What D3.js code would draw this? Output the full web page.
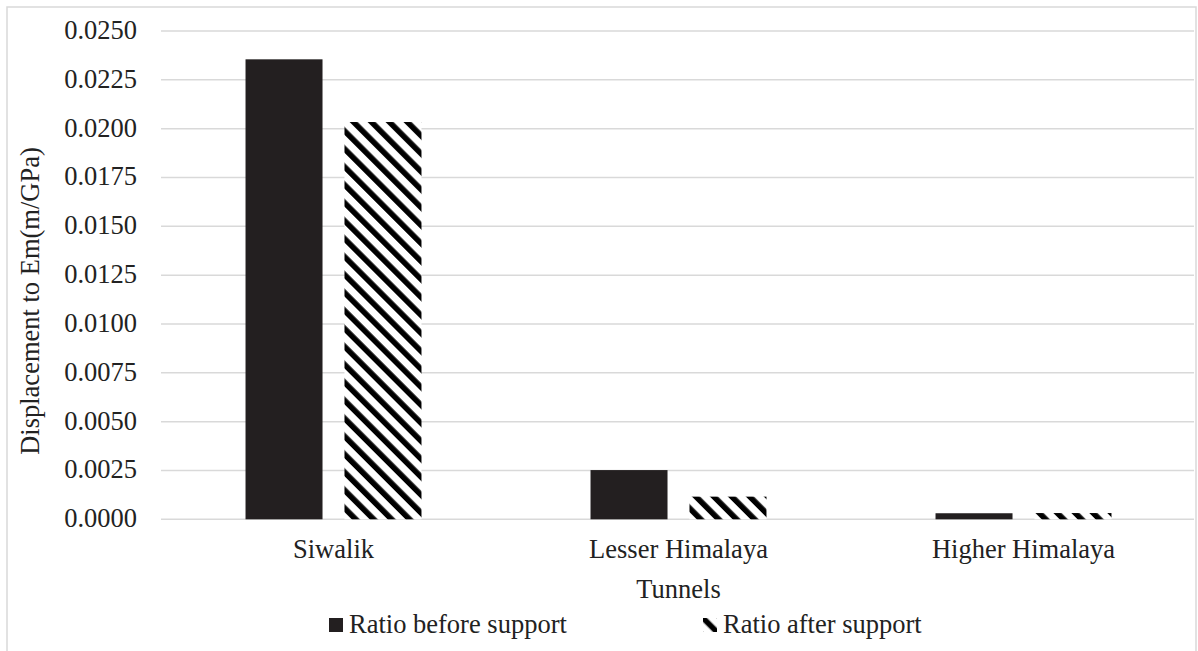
<!DOCTYPE html>
<html>
<head>
<meta charset="utf-8">
<script src="https://cdn.jsdelivr.net/npm/d3@7"></script>
</head>
<body style="margin:0;padding:0;background:#fff">
<svg id="chart" width="1198" height="651" style="display:block"></svg>
<script>
const categories = ["Siwalik", "Lesser Himalaya", "Higher Himalaya"];
const seriesNames = ["Ratio before support", "Ratio after support"];
const beforeSupport = [0.02355, 0.00252, 0.00031];
const afterSupport = [0.02034, 0.00116, 0.00032];
const yTicks = [0, 0.0025, 0.005, 0.0075, 0.01, 0.0125, 0.015, 0.0175, 0.02, 0.0225, 0.025];
const xTitle = "Tunnels";
const yTitle = "Displacement to Em(m/GPa)";

const FONT = "Liberation Serif";
const FS = 26.5;
const TXT = "#222222";
const svg = d3.select("#chart");
const plot = { left: 161, right: 1196, top: 31, bottom: 519.3 };

// border
svg.append("rect")
  .attr("x", 7).attr("y", 7).attr("width", 1189).attr("height", 660)
  .attr("fill", "none").attr("stroke", "#d9d9d9").attr("stroke-width", 1.5);

// hatch patterns
const defs = svg.append("defs");
function makeHatch(id, offset) {
  const p = defs.append("pattern")
    .attr("id", id)
    .attr("patternUnits", "userSpaceOnUse")
    .attr("width", 12.7).attr("height", 12.7)
    .attr("patternTransform", "rotate(-45)");
  p.append("rect").attr("width", 12.7).attr("height", 12.7).attr("fill", "#fff");
  p.append("rect").attr("x", offset).attr("width", 5.6).attr("height", 12.7).attr("fill", "#000");
}
makeHatch("hatch", 0);
makeHatch("hatchLegend", 6.5);

const y = d3.scaleLinear().domain([0, 0.025]).range([plot.bottom, plot.top]);
const x0 = d3.scaleBand().domain(categories).range([plot.left, plot.right])
  .paddingInner(0.49).paddingOuter(0.245);
const x1 = d3.scaleBand().domain(seriesNames).range([0, x0.bandwidth()]).paddingInner(0.222);

// gridlines
svg.append("g").selectAll("line").data(yTicks).join("line")
  .attr("x1", plot.left).attr("x2", plot.right - 2)
  .attr("y1", d => y(d)).attr("y2", d => y(d))
  .attr("stroke", "#d9d9d9").attr("stroke-width", 1.5);

// y axis labels
const yAxis = d3.axisLeft(y).tickValues(yTicks).tickFormat(d3.format(".4f")).tickSize(0).tickPadding(0);
const gy = svg.append("g").attr("transform", "translate(137,0)").call(yAxis)
  .attr("font-family", FONT).attr("font-size", FS);
gy.select(".domain").remove();
gy.selectAll("text")
  .attr("font-family", FONT).attr("font-size", FS)
  .attr("fill", TXT).attr("dy", "0.28em").attr("x", 0);

// bars
const data = categories.map((c, i) => ({ cat: c, vals: [
  { s: seriesNames[0], v: beforeSupport[i] },
  { s: seriesNames[1], v: afterSupport[i] }
]}));
const groups = svg.append("g").selectAll("g").data(data).join("g")
  .attr("transform", d => `translate(${x0(d.cat)},0)`);
groups.selectAll("rect").data(d => d.vals).join("rect")
  .attr("x", d => x1(d.s))
  .attr("width", x1.bandwidth())
  .attr("y", d => y(d.v))
  .attr("height", d => y(0) - y(d.v))
  .attr("fill", d => d.s === seriesNames[0] ? "#231f20" : "url(#hatch)");

// x axis labels
const xAxis = d3.axisBottom(x0).tickSize(0).tickPadding(0);
const gx = svg.append("g").call(xAxis)
  .attr("font-family", FONT).attr("font-size", FS);
gx.select(".domain").remove();
gx.selectAll("text")
  .attr("font-family", FONT).attr("font-size", FS)
  .attr("fill", TXT).attr("y", 558).attr("dy", 0);

// axis titles
svg.append("text").attr("x", (plot.left + plot.right) / 2).attr("y", 598)
  .attr("text-anchor", "middle").attr("font-family", FONT).attr("font-size", FS)
  .attr("fill", TXT).text(xTitle);
svg.append("text")
  .attr("transform", "translate(39,301) rotate(-90)")
  .attr("text-anchor", "middle").attr("font-family", FONT).attr("font-size", FS)
  .attr("fill", TXT).text(yTitle);

// legend (icons placed in absolute coords so the hatch phase is predictable)
const legendItems = [
  { name: seriesNames[0], x: 329, fill: "#231f20" },
  { name: seriesNames[1], x: 703, fill: "url(#hatchLegend)" }
];
const lg = svg.append("g");
lg.selectAll("rect").data(legendItems).join("rect")
  .attr("x", d => d.x).attr("y", 618).attr("width", 14).attr("height", 14)
  .attr("fill", d => d.fill);
lg.selectAll("text").data(legendItems).join("text")
  .attr("x", d => d.x + 20).attr("y", 633)
  .attr("font-family", FONT).attr("font-size", FS).attr("fill", TXT)
  .text(d => d.name);
</script>
</body>
</html>
